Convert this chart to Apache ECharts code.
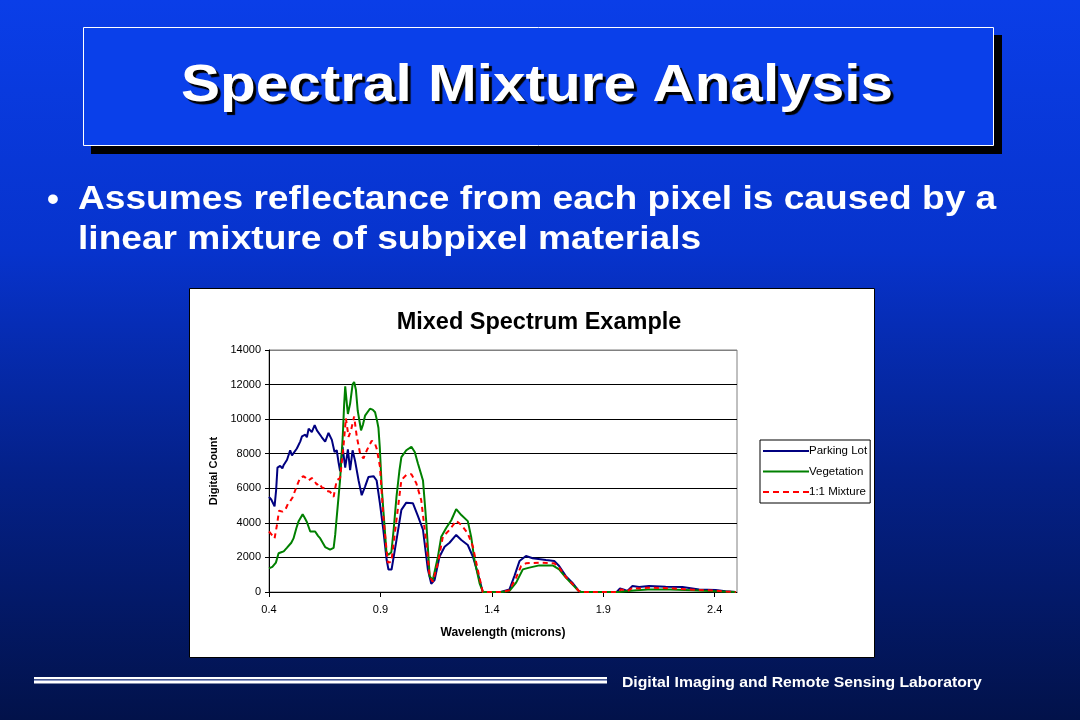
<!DOCTYPE html>
<html>
<head>
<meta charset="utf-8">
<script src="https://cdn.jsdelivr.net/npm/echarts@6/dist/echarts.min.js"></script>
<style>
html,body{margin:0;padding:0;width:1080px;height:720px;overflow:hidden;background:#021246;}
#c{width:1080px;height:720px;}
</style>
</head>
<body>
<div id="c"></div>
<script>
// ---- Data ----
var slideTitle = 'Spectral Mixture Analysis';
var bulletLines = ['Assumes reflectance from each pixel is caused by a', 'linear mixture of subpixel materials'];
var footerText = 'Digital Imaging and Remote Sensing Laboratory';
var chartTitle = 'Mixed Spectrum Example';
var seriesNames = ['Parking Lot', 'Vegetation', '1:1 Mixture'];
var xTickValues = [0.4, 0.9, 1.4, 1.9, 2.4];

var parkingWl = [0.400,0.410,0.418,0.425,0.432,0.438,0.450,0.460,0.466,0.481,0.495,0.503,0.510,0.525,0.540,0.548,0.563,0.570,0.578,0.592,0.605,0.615,0.622,0.637,0.645,0.652,0.667,0.682,0.694,0.704,0.712,0.719,0.730,0.742,0.754,0.764,0.775,0.786,0.802,0.816,0.831,0.846,0.869,0.883,0.898,0.913,0.928,0.936,0.950,0.972,0.994,1.016,1.046,1.068,1.091,1.113,1.128,1.143,1.165,1.188,1.210,1.240,1.263,1.292,1.315,1.337,1.359,1.400,1.440,1.479,1.501,1.524,1.553,1.583,1.643,1.680,1.702,1.732,1.761,1.790,1.800,1.960,1.975,1.990,2.008,2.031,2.061,2.105,2.180,2.255,2.330,2.404,2.449,2.495];
var parkingDn = [5500,5350,5450,4950,5900,7200,7300,7150,7350,7650,8200,7900,7950,8300,8700,9000,9100,8950,9450,9250,9650,9350,9250,8950,8950,8700,9200,8800,8100,8200,7500,7000,8400,7200,8250,7050,8200,7600,6450,5600,6100,6650,6700,6450,5100,3600,1850,1300,1300,3000,4750,5170,5130,4400,3600,1300,480,690,2040,2620,2850,3300,3010,2720,2040,1080,20,0,0,150,920,1790,2080,1950,1850,1790,1500,920,540,60,0,0,200,150,60,350,290,350,310,290,150,120,50,0];

var vegWl = [0.400,0.415,0.421,0.431,0.443,0.455,0.466,0.480,0.488,0.500,0.510,0.523,0.533,0.551,0.560,0.570,0.585,0.592,0.607,0.620,0.630,0.652,0.674,0.690,0.697,0.704,0.719,0.731,0.737,0.742,0.750,0.754,0.764,0.775,0.782,0.790,0.798,0.813,0.822,0.831,0.853,0.865,0.876,0.885,0.891,0.897,0.906,0.915,0.927,0.936,0.949,0.960,0.972,0.985,0.994,1.016,1.039,1.054,1.068,1.091,1.106,1.121,1.135,1.158,1.173,1.195,1.218,1.240,1.263,1.292,1.307,1.322,1.345,1.360,1.440,1.479,1.509,1.539,1.568,1.613,1.673,1.702,1.732,1.761,1.790,1.800,1.970,2.000,2.050,2.100,2.200,2.300,2.400,2.495];
var vegDn = [1370,1450,1500,1700,2240,2300,2350,2550,2600,2850,3100,3700,4100,4500,4300,4050,3500,3400,3500,3250,3100,2600,2450,2550,3300,4350,6500,9000,10800,11900,10800,10300,10900,12000,12150,11700,10500,9350,9700,10200,10600,10550,10400,9900,9500,8400,6000,4400,2300,2150,2300,3700,5500,7000,7800,8200,8400,8100,7450,6450,4000,900,690,2040,3200,3700,4150,4800,4450,4100,3200,1850,500,0,0,60,540,1310,1410,1540,1540,1310,830,440,60,0,0,50,100,150,150,100,50,0];

var mixWl = [0.400,0.410,0.418,0.425,0.436,0.445,0.451,0.460,0.473,0.485,0.495,0.505,0.518,0.530,0.540,0.555,0.565,0.578,0.592,0.605,0.615,0.625,0.637,0.650,0.660,0.674,0.690,0.697,0.704,0.719,0.734,0.745,0.757,0.768,0.782,0.794,0.809,0.824,0.839,0.861,0.875,0.883,0.898,0.913,0.933,0.949,0.972,0.994,1.016,1.039,1.061,1.083,1.106,1.121,1.135,1.158,1.180,1.210,1.240,1.263,1.292,1.315,1.337,1.359,1.440,1.479,1.509,1.531,1.553,1.613,1.680,1.702,1.732,1.761,1.790,1.800,1.965,1.980,1.995,2.010,2.030,2.060,2.100,2.200,2.300,2.400,2.450,2.495];
var mixDn = [3500,3350,3400,3100,3900,4700,4800,4650,4750,5100,5250,5450,5900,6300,6600,6700,6600,6450,6600,6400,6200,6300,6050,6000,5850,5800,5500,6000,6450,6600,8400,10050,8980,9350,10150,8980,8000,7730,8200,8750,8600,8300,7250,4360,1700,1750,4160,6480,6770,6820,6290,5320,2820,890,600,1660,3200,3590,4120,3880,3390,2620,1270,0,0,100,830,1500,1660,1700,1660,1410,870,480,60,0,0,150,100,60,230,200,250,220,130,80,30,0];

function pairs(xs, ys) { return xs.map(function (x, i) { return [x, ys[i]]; }); }

var FONT = '"Liberation Sans", Arial, sans-serif';
var SX = 1.125; // slide text is horizontally stretched in the reference

var solidIcon = 'rect';
var dashedIcon = 'path://M0,0h6v2h-6z M10,0h6v2h-6z M20,0h6v2h-6z M30,0h6v2h-6z M40,0h6v2h-6z';

var chart = echarts.init(document.getElementById('c'), null, { renderer: 'canvas', width: 1080, height: 720 });

var option = {
  animation: false,
  backgroundColor: '#021246',
  textStyle: { fontFamily: FONT },
  graphic: [
    { type: 'rect', z: -100, shape: { x: 0, y: 0, width: 1080, height: 720 },
      style: { fill: { type: 'linear', x: 0, y: 0, x2: 0, y2: 1, colorStops: [
        { offset: 0, color: '#0a3ee8' }, { offset: 0.35, color: '#0733cc' },
        { offset: 0.65, color: '#04218a' }, { offset: 1, color: '#02124a' }] } } },
    { type: 'rect', z: -90, shape: { x: 91, y: 35, width: 911, height: 119 }, style: { fill: '#000' } },
    { type: 'rect', z: -89, shape: { x: 83.5, y: 27.5, width: 910, height: 118 }, style: { fill: '#0a40ea', stroke: '#ffffff', lineWidth: 1 } },
    { type: 'text', z: 50, x: 537, y: 87, scaleX: SX,
      style: { text: slideTitle, x: 0, y: 0, fill: '#ffffff', font: 'bold 52px ' + FONT, textAlign: 'center', textVerticalAlign: 'middle', verticalAlign: 'middle', align: 'center',
        textShadowColor: '#000', textShadowOffsetX: 3, textShadowOffsetY: 3, textShadowBlur: 1 } },
    { type: 'text', z: 50, x: 47, y: 201, style: { text: '\u2022', x: 0, y: 0, fill: '#ffffff', font: 'bold 34px ' + FONT, textVerticalAlign: 'middle', verticalAlign: 'middle' } },
    { type: 'text', z: 50, x: 78, y: 200, scaleX: SX, style: { text: bulletLines[0], x: 0, y: 0, fill: '#ffffff', font: 'bold 33px ' + FONT, textVerticalAlign: 'middle', verticalAlign: 'middle' } },
    { type: 'text', z: 50, x: 78, y: 240, scaleX: SX, style: { text: bulletLines[1], x: 0, y: 0, fill: '#ffffff', font: 'bold 33px ' + FONT, textVerticalAlign: 'middle', verticalAlign: 'middle' } },
    { type: 'rect', z: -50, shape: { x: 189.5, y: 288.5, width: 685, height: 369 }, style: { fill: '#ffffff', stroke: '#000000', lineWidth: 1 } },
    { type: 'rect', z: -40, shape: { x: 34, y: 677, width: 573, height: 2 }, style: { fill: '#ffffff' } },
    { type: 'rect', z: -40, shape: { x: 34, y: 679.5, width: 573, height: 1.5 }, style: { fill: '#8f9cc8' } },
    { type: 'rect', z: -40, shape: { x: 34, y: 681, width: 573, height: 2.5 }, style: { fill: '#ffffff' } },
    { type: 'text', z: 50, x: 622, y: 683, scaleX: SX, style: { text: footerText, x: 0, y: 0, fill: '#ffffff', font: 'bold 14px ' + FONT, textVerticalAlign: 'middle', verticalAlign: 'middle' } }
  ],
  title: {
    text: chartTitle,
    left: 534, top: 306, textAlign: 'center',
    textStyle: { fontFamily: FONT, fontSize: 23.5, fontWeight: 'bold', color: '#000' }
  },
  legend: {
    orient: 'vertical',
    left: 760, top: 440,
    backgroundColor: '#ffffff',
    borderColor: '#000000', borderWidth: 1, borderRadius: 0,
    padding: [5, 3, 5, 3],
    itemGap: 8.5,
    itemWidth: 46, itemHeight: 2,
    textStyle: { fontFamily: FONT, fontSize: 11.5, color: '#000', padding: [0, 0, 0, -5] },
    data: [
      { name: seriesNames[0], icon: solidIcon },
      { name: seriesNames[1], icon: solidIcon },
      { name: seriesNames[2], icon: dashedIcon }
    ]
  },
  grid: { left: 269, top: 350, width: 468, height: 242, show: true, borderColor: '#808080', borderWidth: 1, backgroundColor: 'transparent' },
  xAxis: {
    type: 'value', min: 0.4, max: 2.5,
    name: 'Wavelength (microns)', nameLocation: 'middle', nameGap: 35,
    nameTextStyle: { fontFamily: FONT, fontSize: 12, fontWeight: 'bold', color: '#000' },
    axisLine: { show: true, onZero: false, lineStyle: { color: '#000', width: 1 } },
    axisTick: { show: true, length: 5, lineStyle: { color: '#000' }, customValues: xTickValues },
    axisLabel: { fontFamily: FONT, fontSize: 11, color: '#000', margin: 12, customValues: xTickValues,
      formatter: function (v) { return (Math.round(v * 10) / 10).toFixed(1); } },
    splitLine: { show: false }
  },
  yAxis: {
    type: 'value', min: 0, max: 14000, interval: 2000,
    name: 'Digital Count', nameLocation: 'middle', nameGap: 50, nameRotate: 90,
    nameTextStyle: { fontFamily: FONT, fontSize: 11, fontWeight: 'bold', color: '#000' },
    axisLine: { show: true, lineStyle: { color: '#000', width: 1 } },
    axisTick: { show: true, length: 4, lineStyle: { color: '#000' } },
    axisLabel: { fontFamily: FONT, fontSize: 11, color: '#000', margin: 8, formatter: function (v) { return String(v); } },
    splitLine: { show: true, lineStyle: { color: ['#000', '#000', '#000', '#000', '#000', '#000', '#000', '#808080'], width: 1 } }
  },
  series: [
    { name: seriesNames[0], type: 'line', symbol: 'none', z: 3, data: pairs(parkingWl, parkingDn), lineStyle: { color: '#000080', width: 2 }, itemStyle: { color: '#000080' } },
    { name: seriesNames[1], type: 'line', symbol: 'none', z: 4, data: pairs(vegWl, vegDn), lineStyle: { color: '#008000', width: 2 }, itemStyle: { color: '#008000' } },
    { name: seriesNames[2], type: 'line', symbol: 'none', z: 5, data: pairs(mixWl, mixDn), lineStyle: { color: '#ff0000', width: 2, type: [5, 4] }, itemStyle: { color: '#ff0000' } }
  ]
};
chart.setOption(option);
</script>
</body>
</html>
